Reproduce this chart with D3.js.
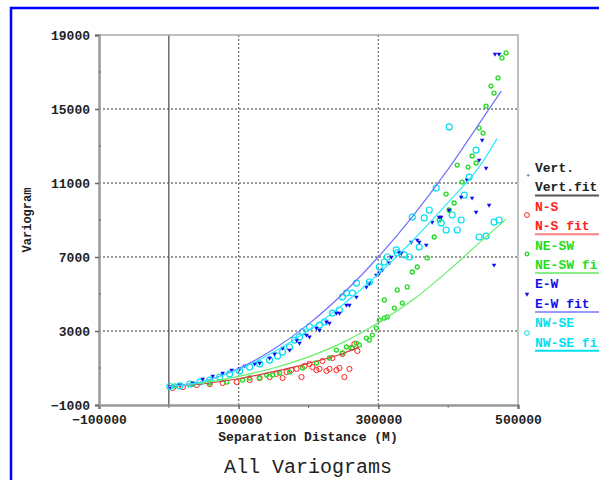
<!DOCTYPE html>
<html>
<head>
<meta charset="utf-8">
<script src="https://cdn.jsdelivr.net/npm/d3@7"></script>
<style>
  body { margin: 0; background: #fff; }
  text { font-family: "Liberation Mono", "Courier New", monospace; }
</style>
</head>
<body>
<svg id="chart" width="599" height="480"></svg>
<script>
// --- data ---
let xTicks = [-100000, 100000, 300000, 500000],
    xMinor = [0, 200000, 400000],
    yTicks = [-1000, 3000, 7000, 11000, 15000, 19000],
    yMinor = [1000, 5000, 9000, 13000, 17000];

// N-S (red open circles)
let nsX = [5700, 20000, 40000, 58600, 77100, 97100, 115700, 130000, 144300, 154300, 162900, 168600, 175700, 182900, 190000, 194300, 201400, 205700, 211400, 215700, 220000, 225700, 230000, 234300, 240000, 244300, 248600, 251400, 258600, 261400, 265700, 270000];
let nsY = [-80, -30, 80, 135, 190, 240, 350, 460, 510, 680, 460, 780, 890, 950, 510, 1110, 1220, 1050, 890, 950, 1380, 840, 950, 1540, 890, 1000, 1760, 510, 950, 2080, 2300, 1920];

// NE-SW (green small circles)
let neX = [8600, 34300, 58600, 82900, 105700, 115700, 130000, 140000, 148600, 158600, 172900, 191400, 211400, 230000, 240000, 248600, 254300, 262900, 268600, 272900, 282900, 287100, 291400, 297100, 301400, 308600, 312900, 308600, 322900, 327100, 334300, 341400, 348600, 355700, 370000, 380000, 387100, 397100, 401400, 408600, 412900, 420000, 428600, 434300, 440000, 444300, 450000, 454300, 461400, 465700, 471400, 477100, 482900];
let neY = [30, 135, 190, 240, 350, 460, 460, 620, 620, 730, 780, 1000, 1270, 1540, 1970, 1810, 2135, 2080, 2350, 2240, 2620, 2510, 2780, 3160, 3590, 3700, 3760, 4680, 4240, 5220, 4510, 5380, 6190, 6460, 6950, 8080, 9000, 10400, 9540, 9920, 11970, 11050, 11860, 12460, 12080, 13970, 13700, 15160, 16240, 15860, 16680, 17760, 18030];

// E-W (blue triangles)
let ewX = [2000, 15700, 34300, 48600, 62900, 77100, 90000, 101400, 108600, 122900, 130000, 144300, 151400, 162900, 172900, 182900, 187100, 197100, 201400, 211400, 215700, 225700, 230000, 240000, 244300, 254300, 258600, 268600, 282900, 287100, 297100, 301400, 305700, 315700, 318600, 330000, 332900, 347100, 355700, 358600, 368600, 377100, 387100, 390000, 401400, 418600, 427100, 434300, 440000, 444300, 448600, 454300, 458600, 465700, 467100, 472900];
let ewY = [0, 80, 190, 400, 570, 730, 890, 950, 1110, 1220, 1270, 1540, 1760, 2080, 1970, 2510, 2350, 2780, 2680, 3160, 3050, 3490, 3430, 3970, 3970, 4400, 4400, 4840, 5380, 5590, 6030, 6130, 6300, 6680, 7000, 7220, 7220, 7810, 7920, 7810, 7650, 8890, 9160, 9160, 9540, 10240, 11160, 10190, 9430, 12240, 13320, 11810, 9810, 6570, 17970, 17970];

// NW-SE (cyan open circles)
let nwX = [1500, 15700, 30000, 44300, 58600, 72900, 87100, 101400, 115700, 130000, 144300, 155700, 162900, 172900, 180000, 187100, 191400, 201400, 215700, 222900, 234300, 244300, 248600, 254300, 262900, 268600, 287100, 301400, 308600, 312900, 325700, 327100, 337100, 344300, 348600, 358600, 365700, 372900, 382900, 390000, 397100, 401400, 405700, 412900, 418600, 422900, 430000, 440000, 444300, 454300, 465700, 472900];
let nwY = [0, 30, 135, 240, 350, 510, 680, 840, 1050, 1220, 1430, 1650, 1870, 2135, 2510, 2680, 2950, 3220, 3320, 3490, 3970, 4135, 4840, 5050, 5050, 5590, 5650, 6460, 6730, 7000, 7380, 7220, 7110, 7000, 9160, 7540, 9110, 9540, 10730, 8840, 8460, 14030, 9270, 8460, 9000, 10350, 11320, 12780, 8080, 8130, 8890, 9000];

// fitted models
let nsFitX = [0, 50000, 100000, 150000, 200000, 250000, 272000],
    nsFitY = [0, 150, 420, 800, 1250, 1800, 2130];
let neFitX = [0, 50000, 100000, 150000, 200000, 250000, 300000, 350000, 400000, 450000, 483000],
    neFitY = [0, 200, 550, 1000, 1600, 2400, 3450, 4700, 6250, 7950, 9050];
let ewFitX = [0, 50000, 100000, 150000, 200000, 250000, 300000, 350000, 400000, 450000, 476000],
    ewFitY = [0, 280, 970, 2010, 3370, 5040, 7000, 9240, 11750, 14520, 15970];
let nwFitX = [0, 50000, 100000, 150000, 200000, 250000, 300000, 350000, 400000, 450000, 470000],
    nwFitY = [0, 280, 930, 1860, 3040, 4450, 6080, 7920, 9950, 12170, 13400];

let legendNames = ["Vert.", "Vert.fit", "N-S", "N-S fit", "NE-SW", "NE-SW fit", "E-W", "E-W fit", "NW-SE", "NW-SE fit"];

// --- layout ---
let svg = d3.select("#chart"),
    plot = {left: 99, right: 518, top: 35, bottom: 405};

let colors = {
  vert: "#222222", vertFit: "#555555",
  ns: "#ff2020", nsFit: "#d04040", nsLine: "#ff8080",
  ne: "#22dd22", neFit: "#66ee66",
  ew: "#1010ee", ewFit: "#7070ff", ewLine: "#9999ff",
  nw: "#00e0f0", nwFit: "#30e8ff"
};

let x = d3.scaleLinear().domain([-100000, 500000]).range([plot.left, plot.right]),
    y = d3.scaleLinear().domain([-1000, 19000]).range([plot.bottom, plot.top]);

function zip(xs, ys) { return xs.map((v, i) => [v, ys[i]]); }

// blue frame
svg.append("rect")
  .attr("x", 11).attr("y", 8).attr("width", 620).attr("height", 500)
  .attr("fill", "none").attr("stroke", "#0000ff").attr("stroke-width", 2.5);

// grid
let grid = svg.append("g");
grid.selectAll("line.h")
  .data(yTicks.filter(d => d > -1000 && d < 19000)).enter()
  .append("line")
  .attr("x1", plot.left).attr("x2", plot.right)
  .attr("y1", d => y(d)).attr("y2", d => y(d))
  .attr("stroke", "#777").attr("stroke-width", 1.3).attr("stroke-dasharray", "2,2");
grid.selectAll("line.v")
  .data([100000, 300000]).enter()
  .append("line")
  .attr("x1", d => x(d)).attr("x2", d => x(d))
  .attr("y1", plot.top).attr("y2", plot.bottom)
  .attr("stroke", "#777").attr("stroke-width", 1.3).attr("stroke-dasharray", "2,2");
grid.append("line")
  .attr("x1", x(0)).attr("x2", x(0)).attr("y1", plot.top).attr("y2", plot.bottom)
  .attr("stroke", "#555").attr("stroke-width", 1.3);

// plot box top / right
svg.append("path")
  .attr("d", `M${plot.left},${plot.top}H${plot.right}V${plot.bottom}`)
  .attr("fill", "none").attr("stroke", "#aaa").attr("stroke-width", 1.5);

// axes
let xAxis = d3.axisBottom(x).tickValues(xTicks).tickSize(4).tickFormat(d3.format("d"));
let yAxis = d3.axisLeft(y).tickValues(yTicks).tickSize(4).tickFormat(d3.format("d"));

let gx = svg.append("g").attr("transform", `translate(0,${plot.bottom})`).call(xAxis);
let gy = svg.append("g").attr("transform", `translate(${plot.left},0)`).call(yAxis);
[gx, gy].forEach(g => {
  g.select(".domain").attr("stroke", "#999").attr("stroke-width", 2.5);
  g.selectAll(".tick line").attr("stroke", "#666").attr("stroke-width", 1.5);
  g.selectAll(".tick text")
    .attr("font-family", "Liberation Mono").attr("font-weight", "bold")
    .attr("font-size", 13).attr("fill", "#222");
});
gx.selectAll(".tick text").attr("dy", "0.95em");
gy.selectAll(".tick text").attr("dx", "-2");

// minor ticks
svg.selectAll("line.xminor").data(xMinor).enter().append("line")
  .attr("x1", d => x(d)).attr("x2", d => x(d))
  .attr("y1", plot.bottom).attr("y2", plot.bottom + 3)
  .attr("stroke", "#777").attr("stroke-width", 1);
svg.selectAll("line.yminor").data(yMinor).enter().append("line")
  .attr("x1", plot.left).attr("x2", plot.left + 2)
  .attr("y1", d => y(d)).attr("y2", d => y(d))
  .attr("stroke", "#666").attr("stroke-width", 1);

// axis titles
svg.append("text")
  .attr("x", 308).attr("y", 441).attr("text-anchor", "middle")
  .attr("font-weight", "bold").attr("font-size", 13).attr("fill", "#222")
  .text("Separation Distance (M)");
svg.append("text")
  .attr("transform", "translate(31,220) rotate(-90)").attr("text-anchor", "middle")
  .attr("font-weight", "bold").attr("font-size", 12).attr("fill", "#222")
  .text("Variogram");
svg.append("text")
  .attr("x", 308).attr("y", 473).attr("text-anchor", "middle")
  .attr("font-size", 20).attr("fill", "#222")
  .text("All Variograms");

// markers
let marks = svg.append("g");
let tri = d3.symbol().type(d3.symbolTriangle).size(9);

function circles(data, color, r, w) {
  marks.append("g").selectAll("circle")
    .data(data).enter()
    .append("circle")
    .attr("cx", d => x(d[0])).attr("cy", d => y(d[1]))
    .attr("r", r).attr("fill", "none")
    .attr("stroke", color).attr("stroke-width", w);
}

circles(zip(nsX, nsY), colors.ns, 2.6, 1);
circles(zip(neX, neY), colors.ne, 2, 1.3);
circles(zip(nwX, nwY), colors.nw, 3, 1.2);

marks.append("g").selectAll("path")
  .data(zip(ewX, ewY)).enter()
  .append("path")
  .attr("d", tri)
  .attr("transform", d => `translate(${x(d[0])},${y(d[1])}) rotate(180)`)
  .attr("fill", colors.ew);

// fit lines
let line = d3.line()
  .x(d => x(d[0]))
  .y(d => y(d[1]))
  .curve(d3.curveMonotoneX);

[[nsFitX, nsFitY, colors.nsFit],
 [neFitX, neFitY, colors.neFit],
 [ewFitX, ewFitY, colors.ewFit],
 [nwFitX, nwFitY, colors.nwFit]].forEach(([xs, ys, c]) => {
  svg.append("path")
    .datum(zip(xs, ys))
    .attr("d", line)
    .attr("fill", "none").attr("stroke", c).attr("stroke-width", 1.2);
});

// legend
let legendColors = [colors.vert, colors.vert, colors.ns, colors.ns, colors.ne, colors.ne, colors.ew, colors.ew, colors.nw, colors.nw],
    underColors = [colors.vertFit, colors.nsLine, "#88ee88", colors.ewLine, colors.nw];

let legend = svg.append("g").attr("transform", "translate(535,0)");
legend.selectAll("text")
  .data(legendNames).enter()
  .append("text")
  .attr("x", 0)
  .attr("y", (d, i) => 172 + i * 19.4)
  .attr("font-weight", "bold").attr("font-size", 13)
  .attr("fill", (d, i) => legendColors[i])
  .text(d => d);

legend.selectAll("line")
  .data(underColors).enter()
  .append("line")
  .attr("x1", 0).attr("x2", 70)
  .attr("y1", (d, i) => 195.5 + i * 38.8).attr("y2", (d, i) => 195.5 + i * 38.8)
  .attr("stroke", d => d).attr("stroke-width", 2);

// legend symbols
let symY = [175, 215, 254, 294, 333];
legend.append("text").attr("x", -9).attr("y", symY[0] + 3)
  .attr("font-size", 7).attr("fill", "#555").text("+");
legend.append("circle").attr("cx", -8).attr("cy", symY[1]).attr("r", 2.4)
  .attr("fill", "none").attr("stroke", colors.ns);
legend.append("circle").attr("cx", -8).attr("cy", symY[2]).attr("r", 1.8)
  .attr("fill", "none").attr("stroke", colors.ne).attr("stroke-width", 1.3);
legend.append("path").attr("d", tri)
  .attr("transform", `translate(-8,${symY[3]}) rotate(180)`).attr("fill", colors.ew);
legend.append("circle").attr("cx", -8).attr("cy", symY[4]).attr("r", 2.4)
  .attr("fill", "none").attr("stroke", colors.nw);
</script>
</body>
</html>
